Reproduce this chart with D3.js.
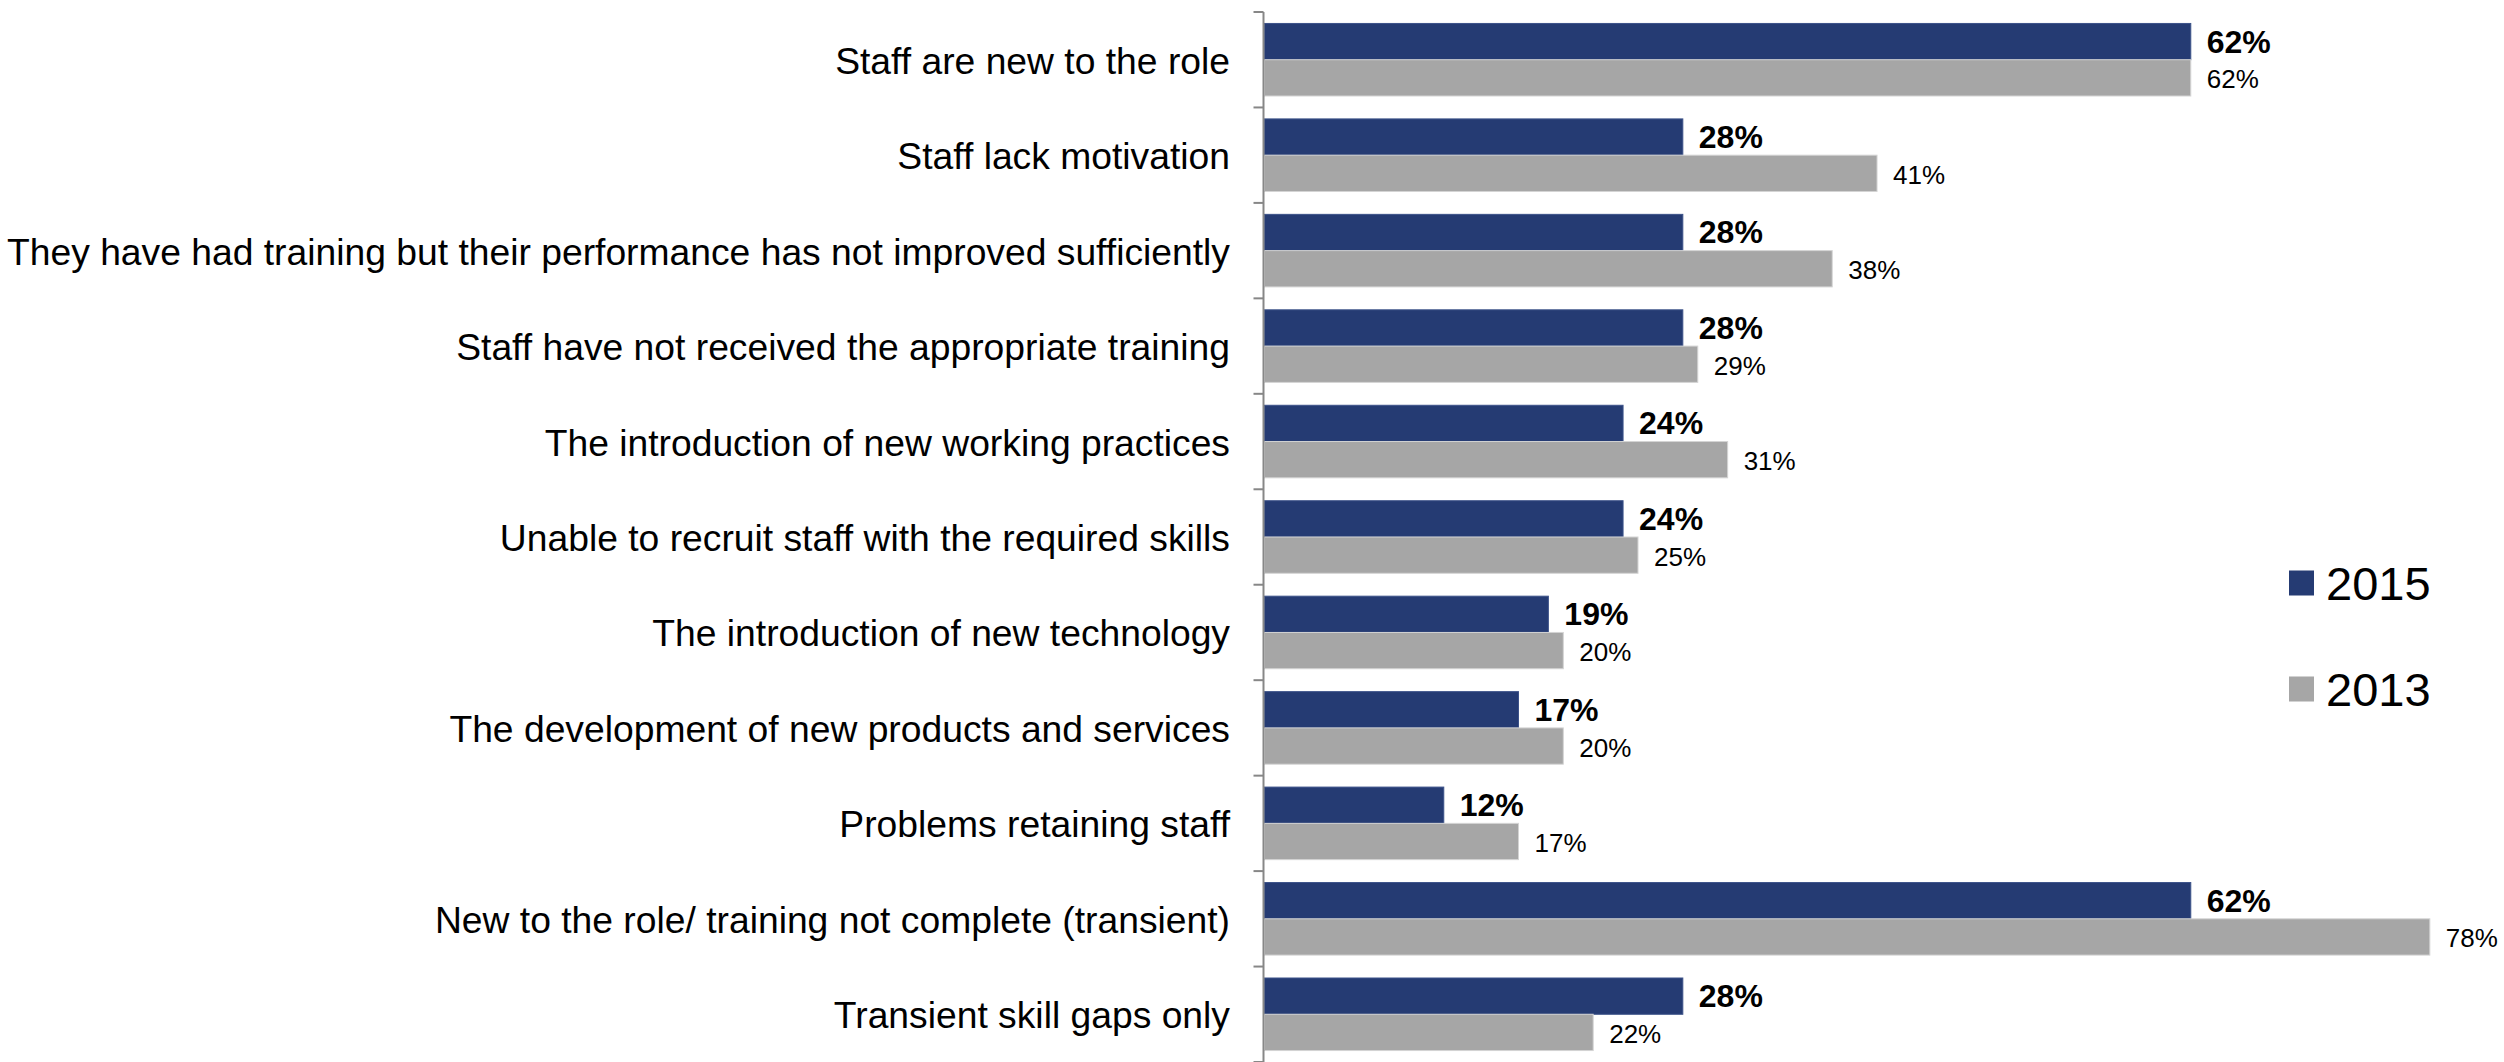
<!DOCTYPE html>
<html>
<head>
<meta charset="utf-8">
<script src="https://cdn.jsdelivr.net/npm/d3@7"></script>
<style>
  html, body { margin: 0; padding: 0; background: #ffffff; }
  svg { display: block; font-family: "Liberation Sans", Arial, sans-serif; }
</style>
</head>
<body>
<svg id="chart" width="2504" height="1062"></svg>
<script>
// Reasons for skill gaps, share of establishments, 2015 vs 2013
const categories = [
  "Staff are new to the role",
  "Staff lack motivation",
  "They have had training but their performance has not improved sufficiently",
  "Staff have not received the appropriate training",
  "The introduction of new working practices",
  "Unable to recruit staff with the required skills",
  "The introduction of new technology",
  "The development of new products and services",
  "Problems retaining staff",
  "New to the role/ training not complete (transient)",
  "Transient skill gaps only"
];
const seriesNames = ["2015", "2013"];
const values2015 = [62, 28, 28, 28, 24, 24, 19, 17, 12, 62, 28];
const values2013 = [62, 41, 38, 29, 31, 25, 20, 20, 17, 78, 22];

const colors = { "2015": "#253b73", "2013": "#a6a6a6" };
const strokes = { "2015": "#3c5289", "2013": "#d4d4d4" };

const svg = d3.select("#chart");

const axisX = 1263.5;
const plotTop = 12, plotBottom = 1062;

// Category bands (top to bottom)
const y = d3.scaleBand()
  .domain(categories)
  .range([plotTop, plotBottom])
  .paddingInner(0.24)
  .paddingOuter(0.12);

// Inner band for the two series within each category
const ySub = d3.scaleBand()
  .domain(seriesNames)
  .range([0, y.bandwidth()]);

// Percentage scale
const x = d3.scaleLinear()
  .domain([0, 100])
  .range([axisX + 1, axisX + 1 + 1494]);

const rows = categories.map((c, i) => ({
  cat: c,
  vals: [
    { s: "2015", v: values2015[i] },
    { s: "2013", v: values2013[i] }
  ]
}));

// Bars
const groups = svg.append("g").selectAll("g")
  .data(rows)
  .join("g")
  .attr("transform", d => `translate(0,${y(d.cat)})`);

groups.selectAll("rect")
  .data(d => d.vals)
  .join("rect")
  .attr("x", x(0))
  .attr("y", d => ySub(d.s))
  .attr("width", d => x(d.v) - x(0))
  .attr("height", ySub.bandwidth())
  .attr("fill", d => colors[d.s])
  .attr("stroke", d => strokes[d.s])
  .attr("stroke-width", 1);

// Value labels
groups.selectAll("text")
  .data(d => d.vals)
  .join("text")
  .attr("x", d => x(d.v) + 16)
  .attr("y", d => ySub(d.s) + ySub.bandwidth() / 2 + (d.s === "2013" ? 1.5 : 0))
  .attr("dominant-baseline", "central")
  .attr("font-size", d => d.s === "2015" ? 32 : 26)
  .attr("font-weight", d => d.s === "2015" ? "bold" : "normal")
  .attr("fill", "#000")
  .text(d => d.v + "%");

// Category axis: line, tick marks at band boundaries, and labels
const axisG = svg.append("g");
axisG.append("line")
  .attr("x1", axisX).attr("x2", axisX)
  .attr("y1", plotTop).attr("y2", plotBottom)
  .attr("stroke", "#878787")
  .attr("stroke-width", 2);

const step = y.step();
const boundaries = d3.range(categories.length + 1).map(i => plotTop + i * step);
axisG.selectAll("line.tick")
  .data(boundaries)
  .join("line")
  .attr("class", "tick")
  .attr("x1", axisX - 10).attr("x2", axisX)
  .attr("y1", d => d).attr("y2", d => d)
  .attr("stroke", "#878787")
  .attr("stroke-width", 2);

axisG.selectAll("text")
  .data(categories)
  .join("text")
  .attr("x", 1230)
  .attr("y", d => y(d) - step * y.paddingInner() / 2 + step / 2 + 1)
  .attr("text-anchor", "end")
  .attr("dominant-baseline", "central")
  .attr("font-size", 37.25)
  .attr("fill", "#000")
  .text(d => d);

// Legend
const legendY = { "2015": 583, "2013": 689 };
const legend = svg.append("g").selectAll("g")
  .data(seriesNames)
  .join("g")
  .attr("transform", d => `translate(2289,${legendY[d]})`);

legend.append("rect")
  .attr("x", 0).attr("y", -12.5)
  .attr("width", 25).attr("height", 25)
  .attr("fill", d => colors[d]);

legend.append("text")
  .attr("x", 37).attr("y", 0)
  .attr("dominant-baseline", "central")
  .attr("font-size", 47)
  .attr("fill", "#000")
  .text(d => d);
</script>
</body>
</html>
